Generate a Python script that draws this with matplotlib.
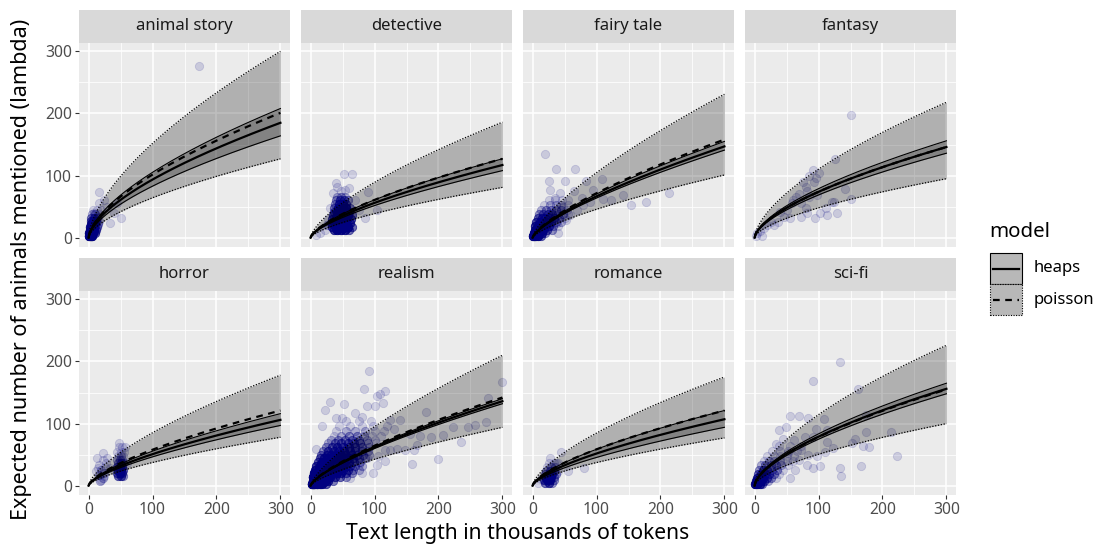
import matplotlib
matplotlib.use('Agg')

import matplotlib.pyplot as plt
import matplotlib.patches as patches
from matplotlib.lines import Line2D
import numpy as np

plt.rcParams['font.family'] = ['Noto Sans', 'DejaVu Sans']

GENRES = ['animal story', 'detective', 'fairy tale', 'fantasy',
          'horror', 'realism', 'romance', 'sci-fi']

# fitted curves, read as value at 300k tokens, plus the power-law exponent
HEAPS_MID = [185, 117, 147, 146, 106, 136, 107, 156]
HEAPS_LO = [164, 108, 141, 136, 97, 132, 94, 148]
HEAPS_HI = [208, 127, 155, 156, 116, 140, 121, 165]
POIS_MID = [201, 127, 158, 146, 121, 142, 121, 155]
POIS_LO = [127, 81, 101, 95, 78, 94, 77, 100]
POIS_HI = [300, 186, 231, 218, 178, 210, 175, 226]
EXPONENT = [0.62, 0.67, 0.72, 0.62, 0.67, 0.72, 0.66, 0.62]

# texts: (thousands of tokens, animals mentioned, how many texts overlap there)
ANIMAL_PTS = [
    (173, 277, 1), (16, 74, 1), (50, 31, 1), (34, 24, 1), (24, 61, 1), (16, 56, 1),
    (8, 40, 1), (29, 50, 1), (19, 45, 1), (45, 56, 1), (13, 34, 1), (39, 40, 1),
    (1, 2, 20), (3, 2, 20), (6, 2, 12), (1, 7, 16), (4, 7, 16), (7, 7, 12), (10, 7, 6),
    (2, 12, 14), (5, 12, 14), (8, 12, 10), (12, 12, 5), (2, 17, 12), (5, 17, 12),
    (9, 17, 8), (13, 17, 4), (3, 22, 8), (6, 22, 10), (10, 22, 6), (15, 22, 3),
    (3, 27, 6), (7, 27, 8), (11, 27, 5), (16, 27, 2), (4, 32, 4), (8, 32, 5),
    (13, 32, 3), (5, 38, 2), (10, 38, 3), (16, 38, 1), (7, 44, 1), (13, 44, 1),
]
DETECTIVE_PTS = [
    (52, 102, 1), (65, 102, 1), (39, 88, 1), (35, 72, 1), (90, 73, 1), (104, 44, 1),
    (85, 31, 1), (31, 48, 1), (69, 61, 1), (54, 77, 1), (47, 75, 1), (75, 45, 1),
    (28, 30, 1), (60, 80, 1), (42, 82, 1),
    (36, 12, 8), (42, 12, 12), (48, 12, 12), (54, 12, 10), (60, 12, 5),
    (34, 18, 8), (40, 18, 14), (46, 18, 16), (52, 18, 16), (58, 18, 12), (64, 18, 5),
    (32, 24, 7), (38, 24, 14), (44, 24, 18), (50, 24, 18), (56, 24, 14), (62, 24, 7),
    (33, 30, 7), (39, 30, 14), (45, 30, 18), (51, 30, 18), (57, 30, 14), (63, 30, 7),
    (35, 36, 6), (41, 36, 12), (47, 36, 16), (53, 36, 16), (59, 36, 12), (65, 36, 5),
    (36, 42, 5), (42, 42, 12), (48, 42, 14), (54, 42, 12), (60, 42, 7),
    (37, 48, 4), (43, 48, 10), (49, 48, 12), (55, 48, 10), (61, 48, 5),
    (38, 54, 3), (44, 54, 7), (50, 54, 7), (56, 54, 5),
    (40, 60, 3), (46, 60, 5), (52, 60, 5), (58, 60, 3),
    (42, 66, 2), (48, 66, 3), (54, 66, 2),
    (8, 4, 1), (15, 8, 1), (22, 12, 1), (26, 20, 2),
]
FAIRY_PTS = [
    (20, 134, 1), (36, 110, 1), (66, 111, 1), (25, 91, 1), (51, 91, 1), (84, 91, 1),
    (108, 94, 1), (142, 69, 1), (154, 53, 1), (177, 58, 1), (214, 72, 1), (123, 61, 1),
    (110, 62, 1), (95, 77, 1), (90, 58, 1), (79, 53, 1), (69, 45, 1), (59, 37, 1),
    (40, 7, 1), (28, 77, 1), (43, 72, 1), (64, 75, 1), (56, 61, 1), (77, 64, 1),
    (35, 64, 1), (48, 50, 1), (53, 29, 1), (38, 23, 1),
    (1, 2, 20), (4, 2, 20), (8, 2, 12), (13, 2, 5),
    (2, 7, 16), (6, 7, 16), (10, 7, 14), (15, 7, 7), (20, 7, 3),
    (3, 13, 12), (7, 13, 14), (12, 13, 12), (17, 13, 9), (23, 13, 5), (30, 13, 3),
    (4, 19, 9), (9, 19, 10), (14, 19, 10), (19, 19, 9), (25, 19, 7), (32, 19, 3), (40, 19, 1),
    (6, 25, 7), (11, 25, 8), (17, 25, 8), (23, 25, 7), (29, 25, 5), (36, 25, 3), (44, 25, 2),
    (8, 31, 5), (14, 31, 6), (20, 31, 6), (27, 31, 5), (34, 31, 5), (42, 31, 3), (50, 31, 1),
    (10, 38, 3), (17, 38, 4), (24, 38, 5), (31, 38, 5), (39, 38, 3), (47, 38, 3), (56, 38, 1),
    (13, 45, 2), (21, 45, 3), (29, 45, 3), (37, 45, 3), (45, 45, 3), (54, 45, 1),
    (18, 52, 1), (27, 52, 2), (36, 52, 2), (45, 52, 2), (55, 52, 1),
    (25, 60, 1), (35, 60, 1), (46, 60, 1),
]
FANTASY_PTS = [
    (150, 198, 1), (125, 127, 1), (92, 109, 1), (101, 104, 1), (96, 96, 1), (85, 99, 1),
    (93, 89, 1), (82, 75, 1), (85, 66, 1), (64, 66, 1), (59, 56, 1), (72, 56, 1),
    (142, 78, 1), (151, 62, 1), (121, 58, 1), (129, 40, 1), (114, 37, 1), (103, 40, 1),
    (95, 31, 1), (82, 40, 1), (72, 34, 1), (56, 31, 1), (46, 34, 1), (36, 26, 1),
    (31, 21, 1), (12, 3, 1), (4, 7, 1), (111, 48, 1), (51, 45, 1), (80, 48, 1),
    (98, 69, 1), (124, 58, 1), (2, 3, 1), (8, 10, 1), (15, 15, 1), (20, 20, 1),
    (25, 25, 1), (40, 42, 1), (70, 70, 1), (60, 60, 1), (75, 90, 1), (80, 82, 1),
]
HORROR_PTS = [
    (23, 52, 1), (13, 44, 1), (29, 44, 1), (47, 68, 1), (57, 63, 1), (60, 36, 1),
    (34, 28, 1), (19, 9, 1), (24, 15, 1), (11, 23, 1),
    (46, 15, 5), (50, 15, 6), (54, 15, 3), (45, 20, 5), (49, 20, 8), (53, 20, 5),
    (46, 25, 6), (50, 25, 8), (54, 25, 5), (45, 30, 5), (49, 30, 6), (53, 30, 4),
    (46, 36, 3), (50, 36, 4), (54, 36, 3), (45, 42, 2), (49, 42, 3), (53, 42, 2),
    (46, 48, 1), (50, 48, 2), (54, 48, 1), (45, 55, 1), (50, 55, 1), (55, 55, 1),
    (48, 62, 1), (53, 62, 1),
    (18, 8, 2), (22, 12, 2), (16, 18, 2), (24, 20, 2), (20, 26, 2), (26, 30, 1),
    (17, 34, 1), (22, 42, 1), (28, 36, 1), (14, 28, 1),
]
REALISM_PTS = [
    (92, 184, 1), (84, 156, 1), (108, 148, 1), (117, 152, 1), (104, 144, 1), (31, 135, 1),
    (22, 122, 1), (52, 131, 1), (300, 167, 1), (277, 142, 1), (275, 103, 1), (257, 98, 1),
    (246, 94, 1), (236, 70, 1), (200, 43, 1), (158, 35, 1), (181, 118, 1), (222, 95, 1),
    (207, 82, 1), (189, 78, 1), (171, 80, 1), (161, 58, 1), (148, 57, 1), (135, 59, 1),
    (124, 58, 1), (131, 92, 1), (140, 106, 1), (124, 105, 1), (113, 133, 1), (101, 128, 1),
    (88, 128, 1), (70, 117, 1), (80, 111, 1), (49, 109, 1), (39, 109, 1), (18, 96, 1),
    (9, 59, 1), (104, 33, 1), (117, 39, 1), (97, 21, 1), (80, 20, 1), (62, 12, 1),
    (156, 83, 1), (166, 66, 1), (106, 47, 1), (117, 58, 1), (88, 44, 1), (75, 33, 1),
    (2, 3, 30), (6, 3, 30), (10, 3, 24), (14, 3, 16), (18, 3, 10), (24, 3, 6),
    (3, 8, 30), (7, 8, 30), (12, 8, 24), (17, 8, 20), (22, 8, 12), (28, 8, 8), (35, 8, 4),
    (4, 14, 24), (9, 14, 24), (14, 14, 24), (19, 14, 20), (25, 14, 16), (31, 14, 10),
    (38, 14, 7), (46, 14, 5), (55, 14, 3),
    (5, 20, 16), (10, 20, 20), (16, 20, 20), (22, 20, 20), (28, 20, 16), (34, 20, 12),
    (41, 20, 9), (48, 20, 7), (56, 20, 5), (65, 20, 3),
    (7, 26, 10), (13, 26, 16), (19, 26, 16), (25, 26, 16), (31, 26, 16), (37, 26, 12),
    (44, 26, 9), (51, 26, 7), (58, 26, 5), (66, 26, 3), (75, 26, 2),
    (9, 32, 8), (15, 32, 12), (21, 32, 14), (27, 32, 14), (34, 32, 14), (41, 32, 12),
    (48, 32, 9), (55, 32, 7), (62, 32, 5), (70, 32, 3), (80, 32, 2),
    (12, 38, 6), (18, 38, 9), (24, 38, 10), (31, 38, 12), (38, 38, 12), (45, 38, 10),
    (52, 38, 8), (60, 38, 6), (68, 38, 4), (78, 38, 3),
    (14, 44, 5), (21, 44, 8), (28, 44, 10), (35, 44, 11), (42, 44, 11), (50, 44, 10),
    (58, 44, 8), (66, 44, 6), (75, 44, 4), (85, 44, 2),
    (17, 50, 4), (25, 50, 6), (32, 50, 8), (40, 50, 9), (48, 50, 9), (56, 50, 8),
    (64, 50, 6), (73, 50, 5), (82, 50, 3), (92, 50, 2),
    (20, 56, 3), (28, 56, 6), (36, 56, 6), (45, 56, 7), (53, 56, 7), (62, 56, 6),
    (70, 56, 5), (80, 56, 4), (90, 56, 2),
    (24, 62, 3), (33, 62, 5), (42, 62, 6), (51, 62, 6), (60, 62, 6), (70, 62, 5),
    (80, 62, 4), (92, 62, 2),
    (28, 68, 2), (38, 68, 4), (48, 68, 5), (58, 68, 5), (68, 68, 5), (78, 68, 4),
    (90, 68, 2), (102, 68, 1),
    (32, 74, 2), (43, 74, 3), (54, 74, 4), (65, 74, 4), (76, 74, 3), (88, 74, 2),
    (100, 74, 1),
    (36, 80, 1), (48, 80, 2), (60, 80, 3), (72, 80, 3), (84, 80, 2), (96, 80, 1),
    (110, 80, 1),
    (40, 88, 1), (55, 88, 2), (70, 88, 2), (85, 88, 2), (100, 88, 1), (115, 88, 1),
    (45, 96, 1), (62, 96, 1), (80, 96, 1), (98, 96, 1), (120, 96, 1),
    (55, 104, 1), (75, 104, 1), (95, 104, 1),
]
ROMANCE_PTS = [
    (45, 55, 1), (28, 44, 1), (80, 29, 1), (56, 23, 1), (36, 36, 1),
    (20, 4, 5), (25, 4, 7), (30, 4, 3), (18, 9, 5), (23, 9, 7), (28, 9, 7), (33, 9, 3),
    (19, 14, 5), (24, 14, 7), (29, 14, 7), (34, 14, 3), (20, 19, 3), (25, 19, 6),
    (30, 19, 5), (36, 19, 3), (21, 24, 3), (27, 24, 4), (33, 24, 4), (39, 24, 1),
    (23, 30, 1), (29, 30, 3), (35, 30, 2), (26, 36, 1), (33, 36, 1), (40, 36, 1),
    (8, 5, 1), (13, 10, 1),
]
SCIFI_PTS = [
    (134, 199, 1), (91, 168, 1), (162, 156, 1), (175, 114, 1), (213, 87, 1), (223, 48, 1),
    (167, 31, 1), (134, 29, 1), (135, 16, 1), (179, 62, 1), (174, 86, 1), (157, 75, 1),
    (153, 69, 1), (170, 64, 1), (123, 60, 1), (113, 71, 1), (109, 108, 1), (84, 109, 1),
    (96, 91, 1), (69, 113, 1), (56, 113, 1), (49, 94, 1), (38, 90, 1), (44, 75, 1),
    (33, 67, 1), (61, 74, 1), (79, 79, 1), (92, 79, 1), (72, 58, 1), (84, 50, 1),
    (98, 47, 1), (103, 31, 1), (92, 28, 1), (82, 33, 1), (63, 25, 1), (56, 12, 1),
    (69, 42, 1), (53, 52, 1), (110, 55, 1), (113, 90, 1),
    (1, 2, 14), (4, 2, 14), (8, 2, 9), (12, 2, 4),
    (2, 7, 11), (6, 7, 12), (10, 7, 9), (15, 7, 5), (21, 7, 2),
    (3, 13, 9), (8, 13, 9), (13, 13, 7), (19, 13, 5), (26, 13, 3), (34, 13, 1),
    (5, 19, 5), (10, 19, 7), (16, 19, 5), (23, 19, 5), (30, 19, 3), (38, 19, 1),
    (7, 26, 3), (13, 26, 5), (20, 26, 5), (27, 26, 3), (35, 26, 3), (44, 26, 1),
    (10, 33, 2), (17, 33, 3), (25, 33, 3), (33, 33, 3), (42, 33, 2), (52, 33, 1),
    (14, 40, 1), (22, 40, 2), (31, 40, 2), (40, 40, 2), (50, 40, 1), (60, 40, 1),
    (20, 48, 1), (30, 48, 1), (40, 48, 1), (51, 48, 1), (62, 48, 1),
    (28, 56, 1), (40, 56, 1), (53, 56, 1), (66, 56, 1),
    (38, 64, 1), (55, 64, 1), (72, 64, 1),
]
POINTS = [ANIMAL_PTS, DETECTIVE_PTS, FAIRY_PTS, FANTASY_PTS,
          HORROR_PTS, REALISM_PTS, ROMANCE_PTS, SCIFI_PTS]

X_TICKS = [0, 100, 200, 300]
Y_TICKS = [0, 100, 200, 300]

W, H = 1095, 545
PANEL_LEFT = [79, 301, 523, 745]
PANEL_TOP = [43, 291]
PANEL_W, PANEL_H = 211, 204
STRIP_H = 33

BG = '#ebebeb'
STRIP_BG = '#d9d9d9'
NAVY = '#000080'
DOTTED = (0, (1, 1.3))
DASHED = (0, (3, 2.5))

fig = plt.figure(figsize=(W / 100, H / 100), dpi=100)

x_curve = np.linspace(0, 300, 200)

for i, genre in enumerate(GENRES):
    row, col = divmod(i, 4)
    left = PANEL_LEFT[col] / W
    bottom = 1 - (PANEL_TOP[row] + PANEL_H) / H
    ax = fig.add_axes([left, bottom, PANEL_W / W, PANEL_H / H])
    ax.set_facecolor(BG)
    ax.set_xlim(-15, 315)
    ax.set_ylim(-15, 313.5)

    # grid
    ax.set_xticks(X_TICKS)
    ax.set_yticks(Y_TICKS)
    ax.set_xticks([50, 150, 250], minor=True)
    ax.set_yticks([50, 150, 250], minor=True)
    ax.grid(True, which='major', color='white', linewidth=1.1)
    ax.grid(True, which='minor', color='white', linewidth=0.55)
    ax.set_axisbelow(True)
    for s in ax.spines.values():
        s.set_visible(False)
    ax.tick_params(which='minor', length=0)
    ax.tick_params(which='major', length=3, width=0.8, color='#333333',
                   labelcolor='#4d4d4d', labelsize=11.3, pad=2)
    if col != 0:
        ax.tick_params(axis='y', length=0, labelleft=False)
    if row != 1:
        ax.tick_params(axis='x', length=0, labelbottom=False)

    # points
    pts = np.array(POINTS[i], dtype=float)
    px = np.repeat(pts[:, 0], pts[:, 2].astype(int))
    py = np.repeat(pts[:, 1], pts[:, 2].astype(int))
    ax.scatter(px, py, s=36, color=NAVY, alpha=0.14, edgecolors=NAVY,
               linewidths=0.6, zorder=2)

    # model curves
    shape = (x_curve / 300) ** EXPONENT[i]
    p_lo, p_mid, p_hi = POIS_LO[i] * shape, POIS_MID[i] * shape, POIS_HI[i] * shape
    h_lo, h_mid, h_hi = HEAPS_LO[i] * shape, HEAPS_MID[i] * shape, HEAPS_HI[i] * shape

    ax.fill_between(x_curve, p_lo, p_hi, color='black', alpha=0.25,
                    linewidth=0, zorder=3)
    ax.fill_between(x_curve, h_lo, h_hi, color='black', alpha=0.25,
                    linewidth=0, zorder=3)
    ax.plot(x_curve, p_lo, color='black', lw=0.9, ls=DOTTED, zorder=4)
    ax.plot(x_curve, p_hi, color='black', lw=0.9, ls=DOTTED, zorder=4)
    ax.plot(x_curve, h_lo, color='black', lw=0.8, zorder=4)
    ax.plot(x_curve, h_hi, color='black', lw=0.8, zorder=4)
    ax.plot(x_curve, p_mid, color='black', lw=1.6, ls=DASHED, zorder=5)
    ax.plot(x_curve, h_mid, color='black', lw=1.6, zorder=5)

    # facet strip
    strip = patches.Rectangle((0, 1), 1, STRIP_H / PANEL_H, transform=ax.transAxes,
                              facecolor=STRIP_BG, edgecolor='none', clip_on=False)
    ax.add_patch(strip)
    ax.text(0.5, 1 + STRIP_H / PANEL_H / 2, genre, transform=ax.transAxes,
            ha='center', va='center', fontsize=12, color='#1a1a1a')

# axis titles
fig.text(518 / W, 1 - 533 / H, 'Text length in thousands of tokens',
         ha='center', va='center', fontsize=15.2)
fig.text(22 / W, 1 - 269 / H, 'Expected number of animals mentioned (lambda)',
         ha='center', va='center', rotation=90, fontsize=15.5)

# legend, drawn by hand like ggplot's
fig.text(989 / W, 1 - 232 / H, 'model', ha='left', va='center', fontsize=14.7)
key_x, key_w, key_h = 990, 32, 31
for j, (label, ls, edge_ls) in enumerate([('heaps', '-', '-'),
                                          ('poisson', DASHED, DOTTED)]):
    top = 253 + j * key_h
    rect = patches.Rectangle((key_x / W, 1 - (top + key_h) / H), key_w / W, key_h / H,
                             transform=fig.transFigure, facecolor='#b8b8b8',
                             edgecolor='black', linewidth=0.8, linestyle=edge_ls)
    fig.add_artist(rect)
    yc = 1 - (top + key_h / 2) / H
    fig.add_artist(Line2D([(key_x + 3) / W, (key_x + key_w - 3) / W], [yc, yc],
                          transform=fig.transFigure, color='black', lw=1.6, ls=ls))
    fig.text((key_x + key_w + 12) / W, yc, label, ha='left', va='center', fontsize=12)

fig.savefig('out.png', dpi=100)
